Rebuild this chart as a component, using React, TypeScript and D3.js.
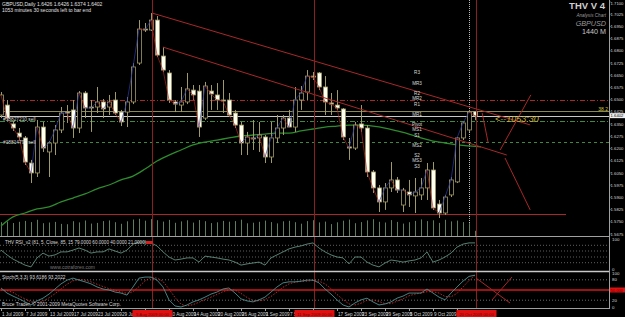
import React, { useEffect, useRef } from 'react';
import * as d3 from 'd3';

const W = 625;
const H = 317;

// ---- candles (daily GBPUSD) ----
const opens = [1.6406,1.6467,1.6351,1.6295,1.6265,1.6111,1.6050,1.6332,1.6179,1.6234,
1.6314,1.6424,1.6437,1.6326,1.6541,1.6455,1.6455,1.6486,1.6455,1.6498,
1.6424,1.6424,1.6486,1.6725,1.6934,1.6928,1.6989,1.6768,1.6664,1.6486,
1.6467,1.6486,1.6559,1.6553,1.6387,1.6553,1.6529,1.6498,1.6498,1.6418,
1.6344,1.6234,1.6265,1.6265,1.6271,1.6148,1.6265,1.6326,1.6387,1.6332,
1.6498,1.6547,1.6645,1.6664,1.6578,1.6480,1.6467,1.6443,1.6210,1.6203,
1.6351,1.6326,1.6056,1.5958,1.5872,1.5958,1.6007,1.5853,1.5933,1.5909,
1.5915,1.5958,1.6068,1.5859,1.5804,1.5915,1.5995,1.6265,1.6314,1.6426];
const highs = [1.6547,1.6498,1.6369,1.6326,1.6277,1.6130,1.6375,1.6363,1.6246,1.6344,
1.6455,1.6467,1.6498,1.6553,1.6553,1.6498,1.6578,1.6504,1.6529,1.6547,
1.6437,1.6516,1.6725,1.6989,1.6971,1.7032,1.7014,1.6823,1.6682,1.6498,
1.6578,1.6664,1.6590,1.6590,1.6609,1.6590,1.6602,1.6621,1.6541,1.6437,
1.6363,1.6302,1.6375,1.6363,1.6283,1.6363,1.6406,1.6406,1.6437,1.6578,
1.6584,1.6682,1.6670,1.6670,1.6645,1.6541,1.6559,1.6449,1.6265,1.6363,
1.6467,1.6344,1.6068,1.5976,1.5988,1.6117,1.6025,1.5958,1.6007,1.6019,
1.6019,1.6111,1.6117,1.5884,1.5915,1.6025,1.6271,1.6369,1.6437,1.6426];
const lows = [1.6387,1.6375,1.6308,1.6252,1.6099,1.5988,1.6025,1.6179,1.6025,1.6160,
1.6295,1.6357,1.6265,1.6295,1.6387,1.6302,1.6418,1.6387,1.6406,1.6406,
1.6338,1.6332,1.6473,1.6713,1.6916,1.6922,1.6762,1.6670,1.6480,1.6424,
1.6424,1.6473,1.6498,1.6271,1.6375,1.6437,1.6437,1.6418,1.6394,1.6326,
1.6160,1.6160,1.6191,1.6179,1.6111,1.6111,1.6234,1.6283,1.6332,1.6302,
1.6437,1.6498,1.6621,1.6559,1.6406,1.6406,1.6437,1.6252,1.6130,1.6191,
1.6302,1.6025,1.5927,1.5810,1.5823,1.5933,1.5927,1.5810,1.5841,1.5804,
1.5884,1.5884,1.5823,1.5773,1.5792,1.5902,1.5988,1.6252,1.6302,1.6374];
const closes = [1.6529,1.6387,1.6326,1.6271,1.6117,1.6050,1.6332,1.6203,1.6234,1.6314,
1.6418,1.6418,1.6326,1.6541,1.6449,1.6449,1.6486,1.6443,1.6486,1.6418,
1.6363,1.6486,1.6701,1.6934,1.6928,1.6989,1.6774,1.6682,1.6498,1.6473,
1.6486,1.6566,1.6529,1.6332,1.6584,1.6535,1.6498,1.6492,1.6406,1.6344,
1.6234,1.6271,1.6259,1.6283,1.6148,1.6265,1.6326,1.6387,1.6332,1.6498,
1.6541,1.6645,1.6639,1.6578,1.6486,1.6473,1.6449,1.6271,1.6203,1.6344,
1.6326,1.6056,1.5958,1.5872,1.5958,1.6007,1.5945,1.5945,1.5915,1.5933,
1.5958,1.6068,1.5835,1.5804,1.5902,1.6007,1.6265,1.6357,1.6424,1.6402];
const volumes = [13800,14500,13000,14200,15100,13900,16200,12800,13500,14100,
12100,11800,14800,13600,15500,12400,13100,14900,15600,13800,
12200,14700,16500,17200,15300,16900,15800,14400,16100,13200,
14600,15700,13400,15900,14800,12900,13700,15100,14300,14900,
16300,12700,13300,14200,15400,13900,12600,14700,15200,13800,
12300,14900,15800,13600,14400,11900,13700,15300,16400,12800,
13900,15600,16800,14200,13500,15900,14100,12400,13800,15100,
16600,14900,15700,13100,16200,14600,15400,13900,12800,5200];

// moving average (green) sampled every second bar
const maBars = [0,2,4,6,8,10,12,14,16,18,20,22,24,26,28,30,32,34,36,38,40,42,44,46,48,50,52,54,56,58,60,62,64,66,68,70,72,74,76,78,80];
const maValues = [1.5724,1.5780,1.5804,1.5829,1.5841,1.5872,1.5896,1.5921,1.5952,1.5976,1.6007,1.6031,1.6074,1.6123,1.6160,1.6191,1.6222,1.6240,1.6252,1.6265,1.6277,1.6283,1.6289,1.6295,1.6295,1.6308,1.6320,1.6332,1.6338,1.6344,1.6344,1.6338,1.6326,1.6308,1.6289,1.6265,1.6246,1.6234,1.6222,1.6216,1.6210];

// indicators
const rsiValues = [63,47,33,23,13,7,37,53,43,47,57,57,63,70,63,53,57,57,67,60,
53,63,83,90,90,87,77,57,40,30,33,37,37,23,43,40,37,33,30,23,
13,17,20,23,13,37,47,57,67,73,77,83,87,70,57,47,40,37,17,40,
40,23,13,7,20,30,27,23,27,30,37,57,23,30,40,53,73,83,87,87];
const stochK = [56,41,32,24,15,6,18,26,38,53,68,79,85,79,74,68,59,53,50,44,
41,35,59,85,88,88,79,59,21,3,0,6,15,21,29,38,44,53,56,41,
24,18,15,21,29,44,59,71,74,74,76,79,79,71,53,38,21,6,0,12,
21,26,15,6,9,15,26,32,41,41,41,53,41,29,21,41,59,76,90,93.6];
const stochD = [50,48,43,32,24,15,13,17,27,39,53,67,77,81,79,74,67,60,54,49,
45,40,45,60,77,87,85,75,53,28,8,3,7,14,22,29,37,45,51,50,
40,28,19,18,22,31,44,58,68,73,75,76,78,76,68,54,37,22,9,6,
11,20,21,16,10,10,17,24,33,38,41,45,45,41,31,30,40,59,78,93.2];

// axes
const priceTicks = [1.7100,1.7025,1.6950,1.6875,1.6800,1.6725,1.6650,1.6575,1.6500,1.6425,1.6350,1.6275,1.6200,1.6125,1.6050,1.5975,1.5900,1.5825,1.5750,1.5675];
const dateLabels = ['1 Jul 2009','7 Jul 2009','13 Jul 2009','17 Jul 2009','23 Jul 2009','29 Jul 2009','4 Aug 2009','10 Aug 2009','14 Aug 2009','20 Aug 2009','26 Aug 2009','1 Sep 2009','7 Sep 2009','11 Sep 2009','17 Sep 2009','23 Sep 2009','29 Sep 2009','5 Oct 2009','9 Oct 2009','15 Oct 2009'];
const cursorBars = [25, 52, 79];
const cursorLabels = ['5 Aug 2009 00:00', '11 Sep 2009 00:00', '20 Oct 2009 00:00'];

// pivot labels
const pivotNames = ['R3','MR3','R2','MR2','R1','MR1','Pivot','MS1','S1','MS2','S2','MS3','S3'];
const pivotPrices = [1.6670,1.6602,1.6541,1.6510,1.6473,1.6412,1.6351,1.6320,1.6283,1.6222,1.6160,1.6130,1.6093];

// trend lines [bar1, price1, bar2, price2]
const trendLines = [
  [25.2, 1.7032, 88.2, 1.6345],
  [27.0, 1.6823, 84.3, 1.6160],
  [83.2, 1.6191, 88.3, 1.6529],
  [80.2, 1.6418, 81.2, 1.6234],
  [84.0, 1.6142, 88.2, 1.5823],
];

export default function App() {
  const ref = useRef<SVGSVGElement>(null);
  useEffect(() => {
    const svg = d3.select(ref.current);
    svg.selectAll('*').remove();
    const font = 'Liberation Sans, Arial, sans-serif';
    svg.append('rect').attr('width', W).attr('height', H).attr('fill', '#000');

    const x = d3.scaleLinear().domain([0, 79]).range([1, 475]);
    const yP = d3.scaleLinear().domain([1.5675, 1.71]).range([234, 2]);
    const yR = d3.scaleLinear().domain([0, 100]).range([269, 239]);
    const yS = d3.scaleLinear().domain([0, 100]).range([307, 273]);
    const yV = d3.scaleLinear().domain([0, 20000]).range([236, 216]);
    const axisX = 609;

    const defs = svg.append('defs');
    defs.append('clipPath').attr('id', 'mainClip').append('rect').attr('x', 0).attr('y', 0).attr('width', axisX).attr('height', 236);
    defs.append('clipPath').attr('id', 'rsiClip').append('rect').attr('x', 0).attr('y', 238).attr('width', axisX).attr('height', 33);
    defs.append('clipPath').attr('id', 'stoClip').append('rect').attr('x', 0).attr('y', 273).attr('width', axisX).attr('height', 35);

    const main = svg.append('g').attr('clip-path', 'url(#mainClip)');

    const hl = (p: number, color: string, dash: string | null, x2 = axisX, w = 1) => {
      const l = main.append('line').attr('x1', 0).attr('x2', x2).attr('y1', Math.round(yP(p)) + 0.5).attr('y2', Math.round(yP(p)) + 0.5)
        .attr('stroke', color).attr('stroke-width', w);
      if (dash) l.attr('stroke-dasharray', dash);
    };
    hl(1.6500, '#a82828', '5,2,1,2');
    hl(1.6430, '#8a8a50', null);
    hl(1.6402, '#c8c8c8', null);
    hl(1.6369, '#3c8a3c', '5,2,1,2');
    hl(1.6240, '#3c8a3c', '3,3');
    hl(1.5800, '#a82828', null, 566);

    cursorBars.forEach((b) => {
      svg.append('line').attr('x1', Math.round(x(b)) + 1.5).attr('x2', Math.round(x(b)) + 1.5).attr('y1', 0).attr('y2', 308)
        .attr('stroke', '#8c2020').attr('stroke-width', 1);
    });
    main.append('line').attr('x1', x(78) + 0.5).attr('x2', x(78) + 0.5).attr('y1', 0).attr('y2', 236)
      .attr('stroke', '#bbbbbb').attr('stroke-dasharray', '1,1');

    volumes.forEach((v, i) => {
      main.append('line').attr('x1', Math.round(x(i)) + 0.5).attr('x2', Math.round(x(i)) + 0.5)
        .attr('y1', 236).attr('y2', yV(v)).attr('stroke', '#5e7e5e').attr('stroke-width', 1);
    });

    const maLine = d3.line<number>().x((d, i) => x(maBars[i])).y((d) => yP(d)).curve(d3.curveMonotoneX);
    main.append('path').attr('d', maLine(maValues)).attr('fill', 'none').attr('stroke', '#2e8b2e').attr('stroke-width', 1.3);

    const olive = '#a09a68';
    opens.forEach((o, i) => {
      const cx = Math.round(x(i)) + 0.5;
      main.append('line').attr('x1', cx).attr('x2', cx).attr('y1', yP(highs[i])).attr('y2', yP(lows[i]))
        .attr('stroke', olive).attr('stroke-width', 1);
      const c = closes[i];
      const top = yP(Math.max(o, c));
      const bot = yP(Math.min(o, c));
      const bull = c >= o;
      main.append('rect').attr('x', cx - 2).attr('y', top).attr('width', 4).attr('height', Math.max(1, bot - top))
        .attr('fill', bull ? '#000' : '#fffff2').attr('stroke', olive).attr('stroke-width', 0.8);
    });

    for (let i = 1; i < closes.length; i++) {
      main.append('line').attr('x1', x(i - 1)).attr('y1', yP(closes[i - 1])).attr('x2', x(i)).attr('y2', yP(closes[i]))
        .attr('stroke', closes[i] < closes[i - 1] ? '#b02828' : '#2c3cb0').attr('stroke-width', 0.8).attr('opacity', 0.85);
    }

    trendLines.forEach(([b1, p1, b2, p2]) => {
      main.append('line').attr('x1', x(b1)).attr('y1', yP(p1)).attr('x2', x(b2)).attr('y2', yP(p2))
        .attr('stroke', '#a82828').attr('stroke-width', 1);
    });

    pivotNames.forEach((n, i) => {
      main.append('text').attr('x', 417).attr('y', yP(pivotPrices[i]) + 1.6).attr('text-anchor', 'middle')
        .attr('font-size', 4.6).attr('font-family', font).attr('fill', '#d8d8d8').text(n);
    });

    const txt = (tx: number, ty: number, s: string, size: number, color: string, extra: Record<string, string> = {}) => {
      const t = svg.append('text').attr('x', tx).attr('y', ty).attr('font-size', size).attr('font-family', font).attr('fill', color).text(s);
      Object.entries(extra).forEach(([k, v]) => t.attr(k, v));
      return t;
    };
    txt(2, 6, 'GBPUSD,Daily  1.6426 1.6426 1.6374 1.6402', 5, '#e0e0e0');
    txt(2, 11.5, '1053 minutes 30 seconds left to bar end', 5, '#e0e0e0');
    txt(605, 9, 'THV V 4', 9.5, '#cfcfcf', { 'text-anchor': 'end', 'font-weight': 'bold' });
    txt(606, 16.5, 'Analysis Chart', 4.6, '#9a9a9a', { 'text-anchor': 'end', 'font-style': 'italic' });
    txt(606, 26, 'GBPUSD', 7.2, '#9a9a9a', { 'text-anchor': 'end', 'font-style': 'italic' });
    txt(606, 34, '1440 M', 7.2, '#c8c8c8', { 'text-anchor': 'end' });
    txt(608, 110.5, '38.2', 5, '#d8c840', { 'text-anchor': 'end' });
    txt(495, 122, '<--1053:30', 9, '#c8b040', { 'font-style': 'italic' });
    txt(3, 120.5, '#18827210 sell', 4.8, '#d8d8d8');
    txt(3, 143.5, '#18814797 sell', 4.8, '#d8d8d8');

    svg.append('line').attr('x1', 0).attr('x2', axisX + 1).attr('y1', 236.5).attr('y2', 236.5).attr('stroke', '#a0a0a0').attr('stroke-width', 1.2);
    svg.append('line').attr('x1', 0).attr('x2', axisX + 1).attr('y1', 271.5).attr('y2', 271.5).attr('stroke', '#c8c8c8').attr('stroke-width', 1.4);

    const rsi = svg.append('g').attr('clip-path', 'url(#rsiClip)');
    [79, 60, 40, 21].forEach((lv) => {
      rsi.append('line').attr('x1', 0).attr('x2', axisX).attr('y1', yR(lv)).attr('y2', yR(lv))
        .attr('stroke', '#777').attr('stroke-dasharray', '1,2').attr('stroke-width', 0.8);
    });
    const rsiLine = d3.line<number>().x((d, i) => x(i)).y((d) => yR(d));
    rsi.append('path').attr('d', rsiLine(rsiValues)).attr('fill', 'none').attr('stroke', '#5f8f80').attr('stroke-width', 0.9);
    txt(5, 244, 'THV RSI_v2 (81, 5, Close, 85, 15 79.0000 60.0000 40.0000 21.0000)', 4.6, '#d8d8d8');
    svg.append('rect').attr('x', 146).attr('y', 241).attr('width', 7).attr('height', 3).attr('fill', '#d02020');
    txt(50, 269, 'www.cotraforex.com', 5, '#777');

    const sto = svg.append('g').attr('clip-path', 'url(#stoClip)');
    [80, 20].forEach((lv) => {
      sto.append('line').attr('x1', 0).attr('x2', axisX).attr('y1', yS(lv)).attr('y2', yS(lv))
        .attr('stroke', '#888').attr('stroke-dasharray', '1,2').attr('stroke-width', 0.8);
    });
    sto.append('line').attr('x1', 0).attr('x2', axisX).attr('y1', yS(50)).attr('y2', yS(50)).attr('stroke', '#d01818').attr('stroke-width', 1.4);
    const sLine = d3.line<number>().x((d, i) => x(i)).y((d) => yS(d));
    sto.append('path').attr('d', sLine(stochD)).attr('fill', 'none').attr('stroke', '#c83030').attr('stroke-width', 0.9).attr('stroke-dasharray', '1.5,1.5');
    sto.append('path').attr('d', sLine(stochK)).attr('fill', 'none').attr('stroke', '#4f8f8f').attr('stroke-width', 0.9);
    sto.append('line').attr('x1', 476).attr('y1', 278).attr('x2', 510).attr('y2', 303).attr('stroke', '#a82828');
    sto.append('line').attr('x1', 492).attr('y1', 300).attr('x2', 512).attr('y2', 277).attr('stroke', '#a82828');
    txt(2, 278.5, 'Stoch(5,3,3) 93.6186 93.2022', 4.8, '#d8d8d8');
    txt(2, 306, 'Bruce Trader, \u00A9 2001-2009 MetaQuotes Software Corp.', 4.8, '#d8d8d8');

    // right axis
    svg.append('line').attr('x1', axisX + 0.5).attr('x2', axisX + 0.5).attr('y1', 0).attr('y2', 308).attr('stroke', '#a0a0a0');
    svg.append('line').attr('x1', 0).attr('x2', axisX + 1).attr('y1', 308.5).attr('y2', 308.5).attr('stroke', '#a0a0a0');
    priceTicks.forEach((p) => {
      const ty = Math.max(yP(p), 3);
      svg.append('line').attr('x1', axisX).attr('x2', axisX + 1.5).attr('y1', yP(p)).attr('y2', yP(p)).attr('stroke', '#a0a0a0');
      txt(610.6, ty + 1.6, p.toFixed(4), 4.2, '#d8d8d8');
    });
    svg.append('rect').attr('x', 610).attr('y', yP(1.6402) - 2.5).attr('width', 15).attr('height', 5).attr('fill', '#f0f0f0');
    txt(610.6, yP(1.6402) + 1.6, '1.6402', 4.2, '#000');
    [[100, yR(100)], [0, yR(0)], [100, yS(100)], [80, yS(80)], [20, yS(20)], [0, yS(0)]].forEach(([v, ty]) => {
      txt(612, ty + 1.6, String(v), 4.4, '#d8d8d8');
    });
    svg.append('rect').attr('x', 610).attr('y', yS(50) - 2.5).attr('width', 15).attr('height', 5).attr('fill', '#e01010');
    txt(610.6, yS(50) + 1.6, '50.000', 4, '#600');

    // date axis (labels hidden under the cursor boxes are not drawn)
    const boxes = cursorBars.map((b) => Math.round(x(b)) + 1.5);
    dateLabels.forEach((d, i) => {
      const tx = Math.round(x(i * 4));
      svg.append('line').attr('x1', tx + 0.5).attr('x2', tx + 0.5).attr('y1', 308).attr('y2', 311).attr('stroke', '#a0a0a0');
      const hidden = boxes.some((c) => tx + 1 >= c - 20 && tx + 1 <= c + 12);
      if (!hidden) txt(tx + 1, 315.5, d, 4.6, '#d8d8d8');
    });
    cursorBars.forEach((b, i) => {
      const cx = Math.round(x(b)) + 1.5;
      svg.append('rect').attr('x', cx - 20).attr('y', 310).attr('width', 40).attr('height', 7).attr('fill', '#e01010');
      txt(cx, 315.5, cursorLabels[i], 4.2, '#700', { 'text-anchor': 'middle' });
    });
  }, []);
  return <svg ref={ref} width={W} height={H} style={{ position: 'absolute', left: 0, top: 0, display: 'block' }} />;
}
